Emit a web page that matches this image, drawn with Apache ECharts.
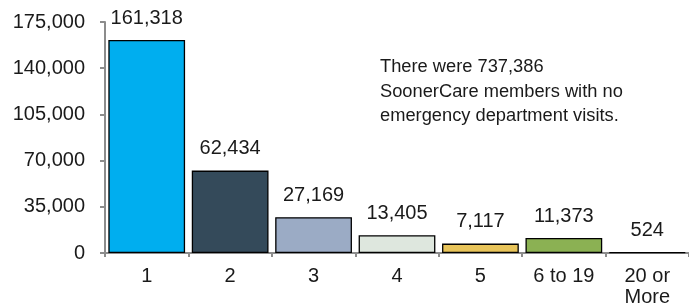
<!DOCTYPE html>
<html><head><meta charset="utf-8">
<script src="https://cdn.jsdelivr.net/npm/echarts@6/dist/echarts.min.js"></script>
<style>html,body{margin:0;padding:0;background:#fff}#c{width:689px;height:308px}</style>
</head><body><div id="c"></div>
<script>
const categories = ['1', '2', '3', '4', '5', '6 to 19', '20 or\nMore'];
const values = [161318, 62434, 27169, 13405, 7117, 11373, 524];
const barColors = ['#00AEEF', '#344A5A', '#9BABC5', '#DEE7DE', '#E8C45A', '#8BB153', '#D9D9D9'];
const yTicks = { min: 0, max: 175000, interval: 35000 };
const note = ['There were 737,386', 'SoonerCare members with no', 'emergency department visits.'];

const chart = echarts.init(document.getElementById('c'), null, { renderer: 'canvas' });
const font = 'Liberation Sans, Arial, sans-serif';
chart.setOption({
  animation: false,
  grid: { left: 105, top: 22, bottom: 52, width: 590 },
  xAxis: {
    type: 'category', data: categories,
    axisLine: { lineStyle: { color: '#8C8C8C', width: 2 } },
    axisTick: { show: true, length: 4, lineStyle: { color: '#8C8C8C', width: 2 } },
    axisLabel: { color: '#1a1a1a', fontSize: 20, fontFamily: font, margin: 13, lineHeight: 21 }
  },
  yAxis: {
    type: 'value', min: yTicks.min, max: yTicks.max, interval: yTicks.interval,
    splitLine: { show: false },
    axisLine: { show: true, lineStyle: { color: '#8C8C8C', width: 2 } },
    axisTick: { show: true, length: 5, lineStyle: { color: '#8C8C8C', width: 2 } },
    axisLabel: { color: '#1a1a1a', fontSize: 20, fontFamily: font, margin: 20,
      formatter: v => v.toLocaleString('en-US') }
  },
  series: [{
    type: 'bar',
    barCategoryGap: '8%',
    data: values.map((v, i) => ({ value: v, itemStyle: { color: barColors[i] } })),
    itemStyle: { borderColor: '#000', borderWidth: 1.3 },
    label: { show: true, position: 'top', distance: 12, color: '#1a1a1a', fontSize: 20, fontFamily: font,
      formatter: p => p.value.toLocaleString('en-US') }
  }],
  graphic: [{
    type: 'text', left: 380, top: 55,
    style: { text: note.join('\n'), fill: '#1a1a1a', font: '18.3px ' + font, lineHeight: 24.5 }
  }]
});
</script></body></html>
